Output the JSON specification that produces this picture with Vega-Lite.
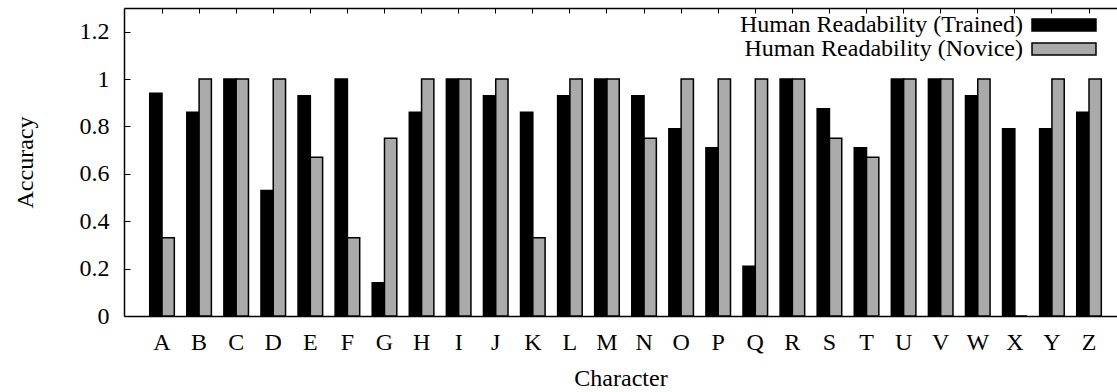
{
  "$schema": "https://vega.github.io/schema/vega-lite/v6.json",
  "width": 993,
  "height": 308,
  "autosize": {"type": "none"},
  "padding": {"left": 124, "top": 8, "right": 0, "bottom": 76},
  "background": "white",
  "config": {
    "view": {"stroke": null},
    "font": "Liberation Serif",
    "axis": {
      "labelFont": "Liberation Serif",
      "labelFontSize": 24,
      "labelColor": "black",
      "titleFont": "Liberation Serif",
      "titleFontSize": 24,
      "titleFontWeight": "normal",
      "titleColor": "black",
      "domainColor": "black",
      "domainWidth": 1.5,
      "tickColor": "black",
      "tickWidth": 1,
      "grid": false
    }
  },
  "data": {
    "values": [
      {"char": "A", "group": "Human Readability (Trained)", "accuracy": 0.94},
      {"char": "A", "group": "Human Readability (Novice)", "accuracy": 0.33},
      {"char": "B", "group": "Human Readability (Trained)", "accuracy": 0.86},
      {"char": "B", "group": "Human Readability (Novice)", "accuracy": 1},
      {"char": "C", "group": "Human Readability (Trained)", "accuracy": 1},
      {"char": "C", "group": "Human Readability (Novice)", "accuracy": 1},
      {"char": "D", "group": "Human Readability (Trained)", "accuracy": 0.53},
      {"char": "D", "group": "Human Readability (Novice)", "accuracy": 1},
      {"char": "E", "group": "Human Readability (Trained)", "accuracy": 0.93},
      {"char": "E", "group": "Human Readability (Novice)", "accuracy": 0.67},
      {"char": "F", "group": "Human Readability (Trained)", "accuracy": 1},
      {"char": "F", "group": "Human Readability (Novice)", "accuracy": 0.33},
      {"char": "G", "group": "Human Readability (Trained)", "accuracy": 0.14},
      {"char": "G", "group": "Human Readability (Novice)", "accuracy": 0.75},
      {"char": "H", "group": "Human Readability (Trained)", "accuracy": 0.86},
      {"char": "H", "group": "Human Readability (Novice)", "accuracy": 1},
      {"char": "I", "group": "Human Readability (Trained)", "accuracy": 1},
      {"char": "I", "group": "Human Readability (Novice)", "accuracy": 1},
      {"char": "J", "group": "Human Readability (Trained)", "accuracy": 0.93},
      {"char": "J", "group": "Human Readability (Novice)", "accuracy": 1},
      {"char": "K", "group": "Human Readability (Trained)", "accuracy": 0.86},
      {"char": "K", "group": "Human Readability (Novice)", "accuracy": 0.33},
      {"char": "L", "group": "Human Readability (Trained)", "accuracy": 0.93},
      {"char": "L", "group": "Human Readability (Novice)", "accuracy": 1},
      {"char": "M", "group": "Human Readability (Trained)", "accuracy": 1},
      {"char": "M", "group": "Human Readability (Novice)", "accuracy": 1},
      {"char": "N", "group": "Human Readability (Trained)", "accuracy": 0.93},
      {"char": "N", "group": "Human Readability (Novice)", "accuracy": 0.75},
      {"char": "O", "group": "Human Readability (Trained)", "accuracy": 0.79},
      {"char": "O", "group": "Human Readability (Novice)", "accuracy": 1},
      {"char": "P", "group": "Human Readability (Trained)", "accuracy": 0.71},
      {"char": "P", "group": "Human Readability (Novice)", "accuracy": 1},
      {"char": "Q", "group": "Human Readability (Trained)", "accuracy": 0.21},
      {"char": "Q", "group": "Human Readability (Novice)", "accuracy": 1},
      {"char": "R", "group": "Human Readability (Trained)", "accuracy": 1},
      {"char": "R", "group": "Human Readability (Novice)", "accuracy": 1},
      {"char": "S", "group": "Human Readability (Trained)", "accuracy": 0.875},
      {"char": "S", "group": "Human Readability (Novice)", "accuracy": 0.75},
      {"char": "T", "group": "Human Readability (Trained)", "accuracy": 0.71},
      {"char": "T", "group": "Human Readability (Novice)", "accuracy": 0.67},
      {"char": "U", "group": "Human Readability (Trained)", "accuracy": 1},
      {"char": "U", "group": "Human Readability (Novice)", "accuracy": 1},
      {"char": "V", "group": "Human Readability (Trained)", "accuracy": 1},
      {"char": "V", "group": "Human Readability (Novice)", "accuracy": 1},
      {"char": "W", "group": "Human Readability (Trained)", "accuracy": 0.93},
      {"char": "W", "group": "Human Readability (Novice)", "accuracy": 1},
      {"char": "X", "group": "Human Readability (Trained)", "accuracy": 0.79},
      {"char": "X", "group": "Human Readability (Novice)", "accuracy": 0},
      {"char": "Y", "group": "Human Readability (Trained)", "accuracy": 0.79},
      {"char": "Y", "group": "Human Readability (Novice)", "accuracy": 1},
      {"char": "Z", "group": "Human Readability (Trained)", "accuracy": 0.86},
      {"char": "Z", "group": "Human Readability (Novice)", "accuracy": 1}
    ]
  },
  "layer": [
    {
      "mark": {"type": "bar", "stroke": "black", "strokeWidth": 1.5},
      "encoding": {
        "x": {
          "field": "char",
          "type": "nominal",
          "sort": null,
          "scale": {"paddingInner": 0.337, "paddingOuter": 0.5585, "align": 0.621},
          "axis": {
            "orient": "bottom",
            "title": "Character",
            "labelAngle": 0,
            "tickSize": -5,
            "labelPadding": 19,
            "titlePadding": 12
          }
        },
        "xOffset": {
          "field": "group",
          "sort": ["Human Readability (Trained)", "Human Readability (Novice)"]
        },
        "y": {
          "field": "accuracy",
          "type": "quantitative",
          "scale": {"domain": [0, 1.3], "nice": false},
          "axis": {
            "title": "Accuracy",
            "values": [0, 0.2, 0.4, 0.6, 0.8, 1, 1.2],
            "format": "~g",
            "tickSize": -6,
            "labelPadding": 21,
            "titlePadding": 42
          }
        },
        "color": {
          "field": "group",
          "type": "nominal",
          "sort": ["Human Readability (Trained)", "Human Readability (Novice)"],
          "scale": {"range": ["black", "#aaaaaa"]},
          "legend": {
            "orient": "none",
            "legendX": 928,
            "legendY": 5,
            "title": null,
            "padding": 0,
            "symbolType": "M-5.333,-1H5.333V1H-5.333Z",
            "symbolSize": 144,
            "symbolStrokeColor": "black",
            "symbolStrokeWidth": 1.5,
            "symbolOpacity": 1,
            "labelAlign": "right",
            "labelOffset": -53,
            "labelFont": "Liberation Serif",
            "labelFontSize": 24,
            "labelColor": "black",
            "labelLimit": 0,
            "rowPadding": -1
          }
        }
      }
    },
    {
      "mark": {"type": "bar", "opacity": 0},
      "encoding": {
        "x": {
          "field": "char",
          "type": "nominal",
          "sort": null,
          "axis": {
            "orient": "top",
            "title": null,
            "labels": false,
            "tickSize": -5
          }
        }
      }
    }
  ],
  "resolve": {"axis": {"x": "independent"}}
}
